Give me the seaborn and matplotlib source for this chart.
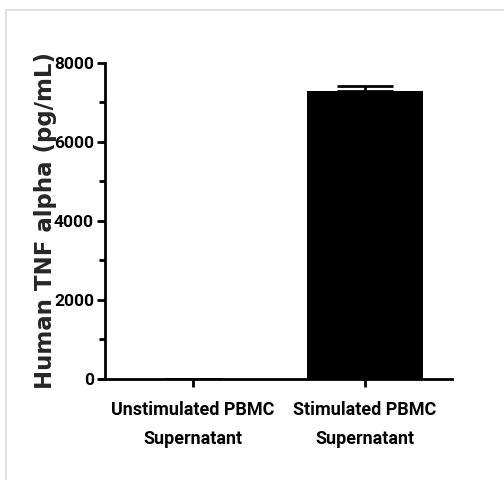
import matplotlib
matplotlib.use("Agg")
import matplotlib.pyplot as plt
import seaborn as sns
import pandas as pd
from matplotlib.lines import Line2D
from matplotlib.ticker import MultipleLocator

categories = ["Unstimulated PBMC\nSupernatant", "Stimulated PBMC\nSupernatant"]
values = [0, 7290]
errors = [0, 120]
yticks = [0, 2000, 4000, 6000, 8000]

sns.set_style("ticks")
plt.rcParams['font.family'] = ['Roboto', 'DejaVu Sans']

df = pd.DataFrame({"group": categories, "value": values})

fig = plt.figure(figsize=(5.04, 4.8), dpi=100)
ax = fig.add_axes([105/504, 1-379/480, (452-105)/504, (379-62.7)/480])

sns.barplot(data=df, x="group", y="value", color="black", width=0.68,
            errorbar=None, ax=ax, saturation=1, edgecolor="black", linewidth=0)
ax.errorbar(range(len(values)), values, yerr=[[0]*len(errors), errors],
            fmt="none", ecolor="black", elinewidth=2, capsize=20, capthick=2)

ax.set_xlim(-0.512, 1.506)
ax.set_ylim(0, 8000)
ax.set_yticks(yticks)
ax.yaxis.set_minor_locator(MultipleLocator(1000))
ax.set_xlabel("")
ax.set_ylabel("Human TNF alpha (pg/mL)", fontsize=16.5, fontweight="bold",
              family=["DejaVu Sans"])
ax.yaxis.set_label_coords(-0.138, 0.5)
for s in ["top", "right"]:
    ax.spines[s].set_visible(False)
for s in ["left", "bottom"]:
    ax.spines[s].set_linewidth(2)
    ax.spines[s].set_color("black")
ax.spines["bottom"].set_bounds(-0.54, 1.506)
ax.tick_params(axis="both", which="major", length=6, width=2, color="black",
               labelcolor="black", pad=2)
ax.tick_params(axis="y", which="minor", length=4, width=2, color="black")
for lab in ax.get_yticklabels():
    lab.set_fontweight("bold")
    lab.set_fontsize(12.5)
for lab in ax.get_xticklabels():
    lab.set_fontweight("bold")
    lab.set_fontsize(13)
    lab.set_linespacing(1.75)
ax.tick_params(axis="x", pad=10)

# light frame
fig.add_artist(Line2D([6/504, 1], [1-10/480, 1-10/480], color="#dcdcdc", lw=1.2, transform=fig.transFigure))
fig.add_artist(Line2D([6/504, 6/504], [0, 1-10/480], color="#dcdcdc", lw=1.2, transform=fig.transFigure))

fig.savefig("out.png", dpi=100)
